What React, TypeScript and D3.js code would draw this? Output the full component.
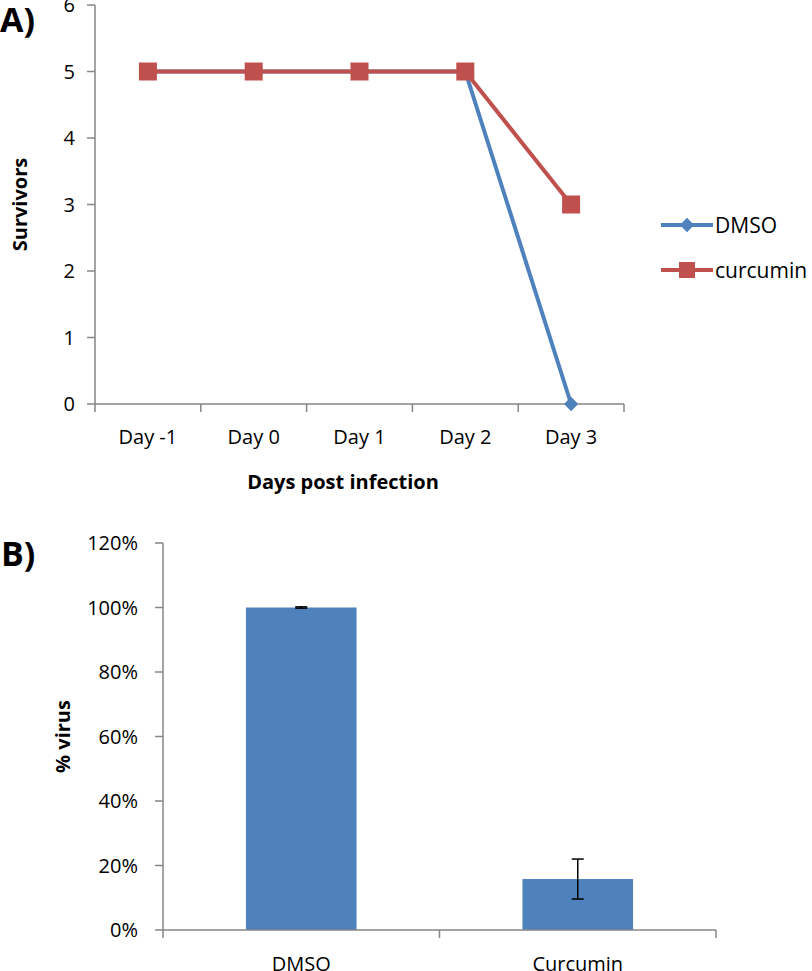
import React, { useEffect, useRef } from 'react';
import * as d3 from 'd3';

// Panel A: survivors per day
const days = ['Day -1', 'Day 0', 'Day 1', 'Day 2', 'Day 3'];
const dmsoSurvivors = [5, 5, 5, 5, 0];
const curcuminSurvivors = [5, 5, 5, 5, 3];
const survivorTicks = [0, 1, 2, 3, 4, 5, 6];

// Panel B: % virus
const treatments = ['DMSO', 'Curcumin'];
const virusPct = [1.0, 0.158];
const virusErr = [0.002, 0.062];
const virusTicks = [0, 0.2, 0.4, 0.6, 0.8, 1.0, 1.2];

const BLUE = '#4F81BD';
const RED = '#C0504D';
const AXIS = '#868686';
const FONT = "'Open Sans', sans-serif";
const FS = '20px';

export default function App() {
  const ref = useRef<SVGSVGElement>(null);

  useEffect(() => {
    const svg = d3.select(ref.current);
    svg.selectAll('*').remove();

    // ---------- Panel A ----------
    const ax = d3.scaleBand().domain(days).range([95, 624]).padding(0);
    const ay = d3.scaleLinear().domain([0, 6]).range([404, 5]);
    const gA = svg.append('g');

    gA.append('text').attr('x', 0).attr('y', 32)
      .style('font-size', '34px').style('font-weight', 'bold').style('font-family', FONT)
      .text('A)');

    // y axis
    gA.append('line').attr('x1', 95).attr('x2', 95).attr('y1', ay(6)).attr('y2', ay(0))
      .attr('stroke', AXIS).attr('stroke-width', 1.5);
    survivorTicks.forEach(t => {
      gA.append('line').attr('x1', 87).attr('x2', 95).attr('y1', ay(t)).attr('y2', ay(t))
        .attr('stroke', AXIS).attr('stroke-width', 1.5);
      gA.append('text').attr('x', 75).attr('y', ay(t)).attr('dy', '0.36em')
        .attr('text-anchor', 'end').style('font-size', FS).style('font-family', FONT)
        .text(String(t));
    });
    // x axis
    gA.append('line').attr('x1', 95).attr('x2', 624).attr('y1', ay(0)).attr('y2', ay(0))
      .attr('stroke', AXIS).attr('stroke-width', 1.5);
    [...days.map(d => ax(d)!), 624].forEach(x => {
      gA.append('line').attr('x1', x).attr('x2', x).attr('y1', ay(0)).attr('y2', ay(0) + 8)
        .attr('stroke', AXIS).attr('stroke-width', 1.5);
    });
    days.forEach(d => {
      gA.append('text').attr('x', ax(d)! + ax.bandwidth() / 2).attr('y', 444)
        .attr('text-anchor', 'middle').style('font-size', FS).style('font-family', FONT)
        .text(d);
    });
    gA.append('text').attr('x', 343).attr('y', 489).attr('text-anchor', 'middle')
      .style('font-size', FS).style('font-weight', 'bold').style('font-family', FONT)
      .text('Days post infection');
    gA.append('text').attr('transform', `translate(27,${ay(3)}) rotate(-90)`)
      .attr('text-anchor', 'middle')
      .style('font-size', FS).style('font-weight', 'bold').style('font-family', FONT)
      .text('Survivors');

    const cx = (d: string) => ax(d)! + ax.bandwidth() / 2;
    const line = d3.line<number>().x((_, i) => cx(days[i])).y(v => ay(v));

    gA.append('path').datum(dmsoSurvivors).attr('d', line).attr('fill', 'none')
      .attr('stroke', BLUE).attr('stroke-width', 4);
    const diamond = d3.symbol().type(d3.symbolDiamond2).size(130);
    dmsoSurvivors.forEach((v, i) => {
      gA.append('path').attr('d', diamond()!)
        .attr('transform', `translate(${cx(days[i])},${ay(v)})`).attr('fill', BLUE);
    });

    gA.append('path').datum(curcuminSurvivors).attr('d', line).attr('fill', 'none')
      .attr('stroke', RED).attr('stroke-width', 4);
    curcuminSurvivors.forEach((v, i) => {
      gA.append('rect').attr('x', cx(days[i]) - 9).attr('y', ay(v) - 9)
        .attr('width', 18).attr('height', 18).attr('fill', RED);
    });

    // legend
    const leg = [
      { name: 'DMSO', color: BLUE, y: 225, shape: 'diamond' },
      { name: 'curcumin', color: RED, y: 270, shape: 'square' },
    ];
    leg.forEach(l => {
      gA.append('line').attr('x1', 661).attr('x2', 713).attr('y1', l.y).attr('y2', l.y)
        .attr('stroke', l.color).attr('stroke-width', 4);
      if (l.shape === 'diamond') {
        gA.append('path').attr('d', diamond()!).attr('transform', `translate(687,${l.y})`)
          .attr('fill', l.color);
      } else {
        gA.append('rect').attr('x', 679).attr('y', l.y - 8).attr('width', 16).attr('height', 16)
          .attr('fill', l.color);
      }
      gA.append('text').attr('x', 715).attr('y', l.y).attr('dy', '0.36em')
        .style('font-size', '21px').style('font-family', FONT).text(l.name);
    });

    // ---------- Panel B ----------
    const bx = d3.scaleBand().domain(treatments).range([163, 716]).padding(0);
    const by = d3.scaleLinear().domain([0, 1.2]).range([930, 543]);
    const gB = svg.append('g');

    gB.append('text').attr('x', 1).attr('y', 566)
      .style('font-size', '34px').style('font-weight', 'bold').style('font-family', FONT)
      .text('B)');

    const barW = bx.bandwidth() * 0.4;
    treatments.forEach((t, i) => {
      const c = bx(t)! + bx.bandwidth() / 2;
      gB.append('rect').attr('x', c - barW / 2).attr('y', by(virusPct[i]))
        .attr('width', barW).attr('height', by(0) - by(virusPct[i])).attr('fill', BLUE);
      const hi = by(virusPct[i] + virusErr[i]);
      const lo = by(virusPct[i] - virusErr[i]);
      gB.append('line').attr('x1', c).attr('x2', c).attr('y1', hi).attr('y2', lo)
        .attr('stroke', '#000').attr('stroke-width', 1.5);
      [hi, lo].forEach(y => {
        gB.append('line').attr('x1', c - 6).attr('x2', c + 6).attr('y1', y).attr('y2', y)
          .attr('stroke', '#000').attr('stroke-width', 1.5);
      });
      gB.append('text').attr('x', c).attr('y', 971).attr('text-anchor', 'middle')
        .style('font-size', FS).style('font-family', FONT).text(t);
    });

    gB.append('line').attr('x1', 163).attr('x2', 163).attr('y1', by(1.2)).attr('y2', by(0))
      .attr('stroke', AXIS).attr('stroke-width', 1.5);
    virusTicks.forEach(t => {
      gB.append('line').attr('x1', 155).attr('x2', 163).attr('y1', by(t)).attr('y2', by(t))
        .attr('stroke', AXIS).attr('stroke-width', 1.5);
      gB.append('text').attr('x', 138).attr('y', by(t)).attr('dy', '0.36em')
        .attr('text-anchor', 'end').style('font-size', FS).style('font-family', FONT)
        .text(d3.format('.0%')(t));
    });
    gB.append('line').attr('x1', 163).attr('x2', 716).attr('y1', by(0)).attr('y2', by(0))
      .attr('stroke', AXIS).attr('stroke-width', 1.5);
    [...treatments.map(t => bx(t)!), 716].forEach(x => {
      gB.append('line').attr('x1', x).attr('x2', x).attr('y1', by(0)).attr('y2', by(0) + 8)
        .attr('stroke', AXIS).attr('stroke-width', 1.5);
    });
    gB.append('text').attr('transform', `translate(70,${by(0.6)}) rotate(-90)`)
      .attr('text-anchor', 'middle')
      .style('font-size', FS).style('font-weight', 'bold').style('font-family', FONT)
      .text('% virus');
  }, []);

  return (
    <svg ref={ref} width={812} height={971}
      style={{ position: 'absolute', left: 0, top: 0, background: '#fff' }} />
  );
}
